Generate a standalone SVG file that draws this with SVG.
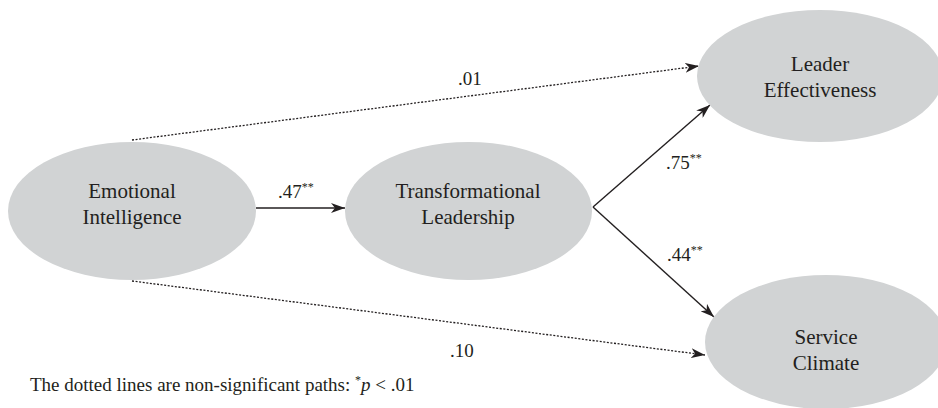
<svg xmlns="http://www.w3.org/2000/svg" width="938" height="408" viewBox="0 0 938 408" font-family="'Liberation Serif', 'DejaVu Serif', serif">
<defs>
<style>
text{font-family:'Liberation Serif','DejaVu Serif',serif;fill:#231f20}
.node{fill:#d1d3d4;stroke:none}
.t{font-size:21px;text-anchor:middle}
.lab{font-size:19px}
.sup{font-size:12px}
.solid{stroke:#231f20;stroke-width:1.4;fill:none}
.dot{stroke:#231f20;stroke-width:1.3;fill:none;stroke-dasharray:2 1.6}
</style>
<marker id="ah" viewBox="0 0 14 10" refX="14" refY="5" markerWidth="14" markerHeight="10" markerUnits="userSpaceOnUse" orient="auto">
<path d="M0,0 L14,5 L0,10 L4,5 Z" fill="#231f20"/>
</marker>
</defs>
<rect width="938" height="408" fill="#ffffff"/>
<g id="connectors">
<path class="dot" d="M132,140 L699,66" marker-end="url(#ah)"/>
<path class="dot" d="M132,281 L705,355" marker-end="url(#ah)"/>
<path class="solid" d="M256,208 L345,208" marker-end="url(#ah)"/>
<path class="solid" d="M593,207 L710,105" marker-end="url(#ah)"/>
<path class="solid" d="M593,207 L714,317" marker-end="url(#ah)"/>
</g>
<g id="node-ei">
<ellipse class="node" cx="132" cy="211" rx="124" ry="69"/>
<text class="t" x="132" y="198">Emotional</text>
<text class="t" x="132" y="224">Intelligence</text>
</g>
<g id="node-tl">
<ellipse class="node" cx="468.5" cy="211" rx="123.5" ry="69"/>
<text class="t" x="468" y="198">Transformational</text>
<text class="t" x="468" y="224">Leadership</text>
</g>
<g id="node-le">
<ellipse class="node" cx="820" cy="76" rx="123" ry="66"/>
<text class="t" x="820" y="71">Leader</text>
<text class="t" x="820" y="97">Effectiveness</text>
</g>
<g id="node-sc">
<ellipse class="node" cx="826" cy="342" rx="121" ry="67"/>
<text class="t" x="826" y="344">Service</text>
<text class="t" x="826" y="370">Climate</text>
</g>
<g id="labels">
<text class="lab" x="458" y="85">.01</text>
<text class="lab" x="278" y="198">.47<tspan class="sup" dy="-7">**</tspan></text>
<text class="lab" x="666" y="169">.75<tspan class="sup" dy="-7">**</tspan></text>
<text class="lab" x="667" y="261">.44<tspan class="sup" dy="-7">**</tspan></text>
<text class="lab" x="450" y="357">.10</text>
<text class="lab" x="30" y="391">The dotted lines are non-significant paths: <tspan class="sup" dy="-7">*</tspan><tspan dy="7" font-style="italic">p</tspan> &lt; .01</text>
</g>
</svg>
